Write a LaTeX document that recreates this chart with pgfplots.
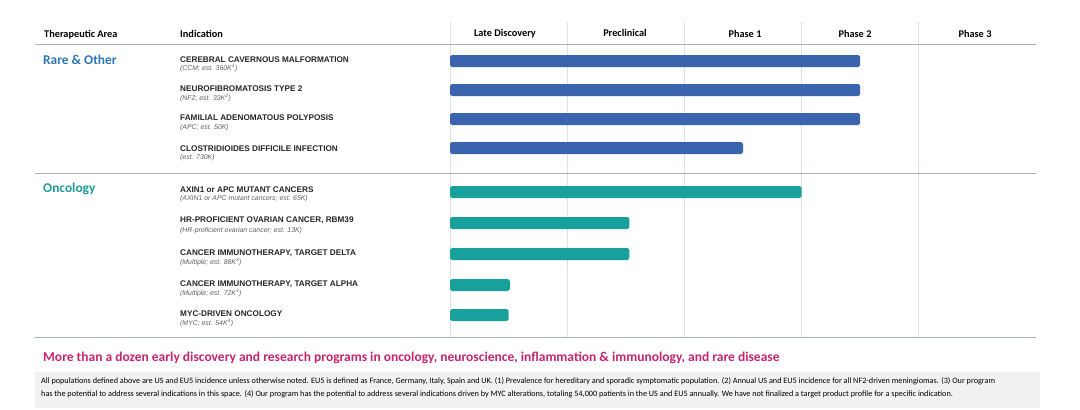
\documentclass[border=0pt]{standalone}
\usepackage{pgfplots}
\pgfplotsset{compat=1.18}
\usepackage{fontspec}
\setmainfont{Carlito}
\newfontfamily\rob{Liberation Sans}
\definecolor{barblue}{HTML}{3A64AE}
\definecolor{barteal}{HTML}{17A09C}
\definecolor{rareblue}{HTML}{2E75B6}
\definecolor{onco}{HTML}{1B9C9A}
\definecolor{pinkc}{HTML}{C7256B}
\definecolor{footgray}{HTML}{F1F1F1}
\definecolor{gridgray}{HTML}{DDE1E6}
\definecolor{rulegray}{HTML}{A7B1C0}
\definecolor{subgray}{HTML}{606060}
\newcommand{\hdr}{\bfseries\fontsize{10.3}{12}\selectfont}
\newcommand{\nm}{\rob\bfseries\fontsize{8.2}{9}\selectfont\color{black!85}}
\newcommand{\subr}{\rob\itshape\fontsize{6.9}{7}\selectfont\color{subgray}}
\newcommand{\subo}{\rob\itshape\fontsize{6.9}{7}\selectfont\color{subgray}}
\begin{document}
\begin{tikzpicture}
\begin{scope}[x=1pt,y=-1pt]
\path[use as bounding box] (0,0) rectangle (1080,410);
\fill[footgray] (35,372) rectangle (1040,408);
\end{scope}
\begin{axis}[at={(450pt,-337pt)}, anchor=south west, scale only axis,
  width=586pt, height=315pt, xmin=0, xmax=5, ymin=22, ymax=337,
  y dir=reverse, xtick={0,1,2,3,4}, xticklabel=\empty, ytick=\empty,
  xmajorgrids, grid style={gridgray, line width=0.8pt},
  axis line style={draw=none}, major tick length=0pt, clip=false,
  xbar, bar width=12pt]
\addplot[xbar, bar shift=0pt, fill=barblue, draw=none, rounded corners=1.8pt]
  coordinates {(3.5,61) (3.5,90) (3.5,119) (2.5,148)};
\addplot[xbar, bar shift=0pt, fill=barteal, draw=none, rounded corners=1.8pt]
  coordinates {(3.0,192) (1.53,223) (1.53,254) (0.51,285) (0.5,315)};
\end{axis}
\begin{scope}[x=1pt,y=-1pt]
% rules
\draw[rulegray, line width=1pt] (35,44) -- (1036,44);
\draw[rulegray, line width=1pt] (35,173) -- (1036,173);
\draw[rulegray, line width=1pt] (35,337) -- (1036,337);
% headers
\node[anchor=base west, inner sep=0pt] at (44,37) {\hdr Therapeutic Area};
\node[anchor=base west, inner sep=0pt] at (180,37) {\hdr Indication};
\node[anchor=base, inner sep=0pt] at (505,36) {\hdr Late Discovery};
\node[anchor=base, inner sep=0pt] at (625,36) {\hdr Preclinical};
\node[anchor=base, inner sep=0pt] at (745,37) {\hdr Phase 1};
\node[anchor=base, inner sep=0pt] at (855,37) {\hdr Phase 2};
\node[anchor=base, inner sep=0pt] at (975,37) {\hdr Phase 3};
% areas
\node[anchor=base west, inner sep=0pt] at (43,64) {\bfseries\fontsize{13.4}{15}\selectfont\color{rareblue}Rare \& Other};
\node[anchor=base west, inner sep=0pt] at (43,192) {\bfseries\fontsize{13.4}{15}\selectfont\color{onco}Oncology};
% indications
\node[anchor=base west, inner sep=0pt] at (180,62) {\nm CEREBRAL CAVERNOUS MALFORMATION};
\node[anchor=base west, inner sep=0pt] at (180,70.8) {\subr (CCM; est. 360K\textsuperscript{1})};
\node[anchor=base west, inner sep=0pt] at (180,91.5) {\nm NEUROFIBROMATOSIS TYPE 2};
\node[anchor=base west, inner sep=0pt] at (180,100.3) {\subr (NF2; est. 33K\textsuperscript{2})};
\node[anchor=base west, inner sep=0pt] at (180,120.5) {\nm FAMILIAL ADENOMATOUS POLYPOSIS};
\node[anchor=base west, inner sep=0pt] at (180,129.3) {\subr (APC; est. 50K)};
\node[anchor=base west, inner sep=0pt] at (180,151) {\nm CLOSTRIDIOIDES DIFFICILE INFECTION};
\node[anchor=base west, inner sep=0pt] at (180,159.5) {\subr (est. 730K)};
\node[anchor=base west, inner sep=0pt] at (180,192) {\nm AXIN1 or APC MUTANT CANCERS};
\node[anchor=base west, inner sep=0pt] at (180,200.8) {\subo (AXIN1 or APC mutant cancers; est. 65K)};
\node[anchor=base west, inner sep=0pt] at (180,222) {\nm HR-PROFICIENT OVARIAN CANCER, RBM39};
\node[anchor=base west, inner sep=0pt] at (180,232.5) {\subo (HR-proficient ovarian cancer; est. 13K)};
\node[anchor=base west, inner sep=0pt] at (180,255.5) {\nm CANCER IMMUNOTHERAPY, TARGET DELTA};
\node[anchor=base west, inner sep=0pt] at (180,264.8) {\subo (Multiple; est. 88K\textsuperscript{3})};
\node[anchor=base west, inner sep=0pt] at (180,286.5) {\nm CANCER IMMUNOTHERAPY, TARGET ALPHA};
\node[anchor=base west, inner sep=0pt] at (180,295.8) {\subo (Multiple; est. 72K\textsuperscript{3})};
\node[anchor=base west, inner sep=0pt] at (180,316.5) {\nm MYC-DRIVEN ONCOLOGY};
\node[anchor=base west, inner sep=0pt] at (180,325.8) {\subo (MYC; est. 54K\textsuperscript{4})};
% headline
\node[anchor=base west, inner sep=0pt] at (43,361) {\bfseries\fontsize{13.5}{15}\selectfont\color{pinkc}More than a dozen early discovery and research programs in oncology, neuroscience, inflammation \& immunology, and rare disease};
% footnote
\node[anchor=base west, inner sep=0pt] at (41,383.5) {\fontsize{8.2}{9}\selectfont All populations defined above are US and EU5 incidence unless otherwise noted. EU5 is defined as France, Germany, Italy, Spain and UK. (1) Prevalence for hereditary and sporadic symptomatic population. (2) Annual US and EU5 incidence for all NF2-driven meningiomas. (3) Our program};
\node[anchor=base west, inner sep=0pt] at (41,396) {\fontsize{8.2}{9}\selectfont has the potential to address several indications in this space. (4) Our program has the potential to address several indications driven by MYC alterations, totaling 54,000 patients in the US and EU5 annually. We have not finalized a target product profile for a specific indication.};
\end{scope}
\end{tikzpicture}
\end{document}
